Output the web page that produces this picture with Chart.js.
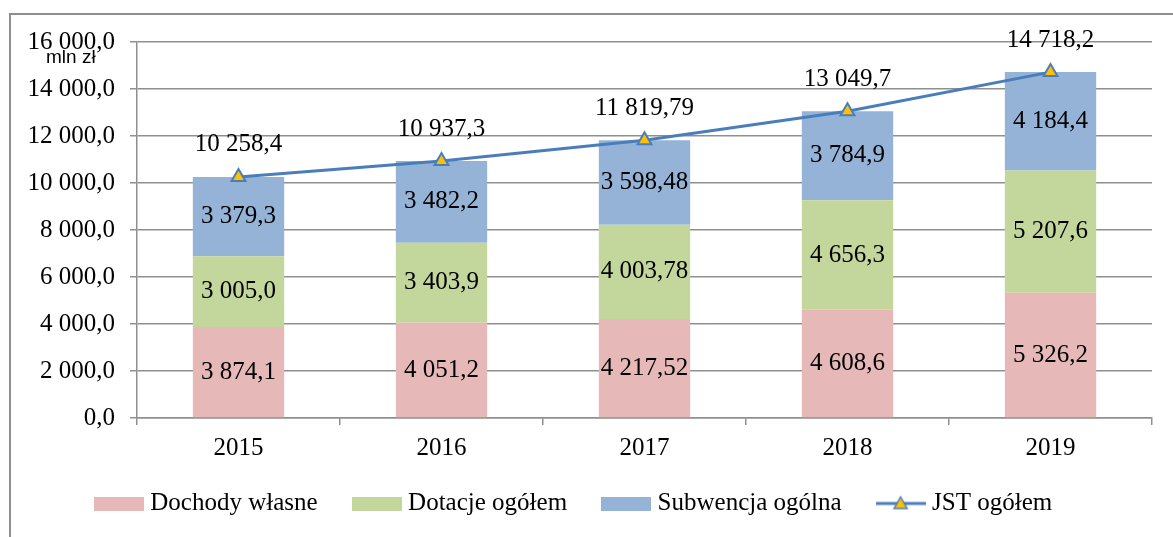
<!DOCTYPE html>
<html>
<head>
<meta charset="utf-8">
<script src="https://cdn.jsdelivr.net/npm/chart.js@4/dist/chart.umd.min.js"></script>
<style>
  body { margin: 0; background: #fff; }
  #wrap { width: 1173px; height: 537px; position: relative; }
</style>
</head>
<body>
<div id="wrap"><canvas id="chart" width="1173" height="537"></canvas></div>
<script>
// --- Data ---
const years = ['2015', '2016', '2017', '2018', '2019'];
const dochodyWlasne = [3874.1, 4051.2, 4217.52, 4608.6, 5326.2];
const dotacjeOgolem = [3005.0, 3403.9, 4003.78, 4656.3, 5207.6];
const subwencjaOgolna = [3379.3, 3482.2, 3598.48, 3784.9, 4184.4];
const jstOgolem = [10258.4, 10937.3, 11819.79, 13049.7, 14718.2];
const decimals = [1, 1, 2, 1, 1]; // 2017 is given with two decimals
const yTicks = [0, 2000, 4000, 6000, 8000, 10000, 12000, 14000, 16000];

const SERIF = '"Liberation Serif", "Times New Roman", serif';
const GRID = '#8f8f8f';
const LINE_BLUE = '#4A7EBB';

const fmt = (v, d) => {
    const [i, f] = v.toFixed(d).split('.');
    return i.replace(/\B(?=(\d{3})+(?!\d))/g, ' ') + ',' + f;
};

// legend swatches (wider than the box so the text sits close, like Excel)
const swatch = (color) => {
    const c = document.createElement('canvas');
    c.width = 50; c.height = 14;
    const g = c.getContext('2d');
    g.fillStyle = color; g.fillRect(0, 0, 50, 14);
    return c;
};
const lineSwatch = () => {
    const c = document.createElement('canvas');
    c.width = 50; c.height = 18;
    const g = c.getContext('2d');
    g.strokeStyle = LINE_BLUE; g.lineWidth = 3;
    g.beginPath(); g.moveTo(0, 9); g.lineTo(50, 9); g.stroke();
    g.beginPath(); g.moveTo(25, 2.5); g.lineTo(31.5, 14); g.lineTo(18.5, 14); g.closePath();
    g.fillStyle = '#FFC000'; g.fill(); g.lineWidth = 1.5; g.stroke();
    return c;
};

// --- Plugins ---
const frame = {
    id: 'frame',
    afterLayout(chart) {
        // pull the legend row up a bit, its padding is also the item gap
        chart.legend.top -= 11;
        chart.legend.bottom -= 11;
    },
    beforeDraw(chart) {
        const ctx = chart.ctx;
        ctx.save();
        ctx.fillStyle = '#fff';
        ctx.fillRect(0, 0, chart.width, chart.height);
        ctx.strokeStyle = GRID; ctx.lineWidth = 2;
        ctx.strokeRect(10, 14, 2000, 2000);
        ctx.restore();
    },
    afterDraw(chart) {
        const ctx = chart.ctx;
        ctx.save();
        ctx.font = '19px "Liberation Sans", Arial, sans-serif';
        ctx.fillStyle = '#000';
        ctx.textBaseline = 'alphabetic';
        ctx.fillText('mln zł', 46, 63);
        ctx.restore();
    }
};

const valueLabels = {
    id: 'valueLabels',
    afterDatasetsDraw(chart) {
        const ctx = chart.ctx;
        ctx.save();
        ctx.font = '25px ' + SERIF;
        ctx.fillStyle = '#000';
        ctx.textAlign = 'center';
        ctx.textBaseline = 'middle';
        chart.data.datasets.forEach((ds, di) => {
            const meta = chart.getDatasetMeta(di);
            meta.data.forEach((el, i) => {
                const txt = fmt(ds.data[i], decimals[i]);
                if (ds.type === 'line') {
                    ctx.fillText(txt, el.x, el.y - 32);
                } else {
                    ctx.fillText(txt, el.x, (el.y + el.base) / 2);
                }
            });
        });
        ctx.restore();
    }
};

// --- Chart ---
Chart.defaults.font.family = SERIF;
Chart.defaults.font.size = 25;
Chart.defaults.color = '#000';

new Chart(document.getElementById('chart').getContext('2d'), {
    data: {
        labels: years,
        datasets: [
            { type: 'bar', label: 'Dochody własne', data: dochodyWlasne, backgroundColor: '#E6B9B8', stack: 'bars', order: 1 },
            { type: 'bar', label: 'Dotacje ogółem', data: dotacjeOgolem, backgroundColor: '#C3D69B', stack: 'bars', order: 1 },
            { type: 'bar', label: 'Subwencja ogólna', data: subwencjaOgolna, backgroundColor: '#95B3D7', stack: 'bars', order: 1 },
            { type: 'line', label: 'JST ogółem', data: jstOgolem, borderColor: LINE_BLUE, borderWidth: 3, stack: 'line', order: 0,
              pointStyle: 'triangle', pointRadius: 8, pointBackgroundColor: '#FFC000', pointBorderColor: LINE_BLUE, pointBorderWidth: 2, tension: 0 }
        ]
    },
    options: {
        responsive: false,
        animation: false,
        layout: { padding: { top: 42, right: 21, bottom: 0, left: 0 } },
        datasets: { bar: { barPercentage: 0.45, categoryPercentage: 1.0 } },
        scales: {
            x: {
                stacked: true,
                offset: true,
                grid: { display: true, drawOnChartArea: false, drawTicks: true, tickLength: 7, color: GRID, lineWidth: 1.5, offset: true },
                border: { color: GRID, width: 1.5 },
                ticks: { padding: 8 },
                afterFit: (s) => { s.height = 44; }
            },
            y: {
                stacked: true,
                min: 0, max: 16000,
                afterBuildTicks: (s) => { s.ticks = yTicks.map(v => ({ value: v })); },
                grid: { color: GRID, lineWidth: 1.5, tickLength: 7 },
                border: { color: GRID, width: 1.5 },
                ticks: { padding: 15, callback: (v) => fmt(v, 1) },
                afterFit: (s) => { s.width = 137; }
            }
        },
        plugins: {
            tooltip: { enabled: false },
            legend: {
                position: 'bottom',
                labels: {
                    usePointStyle: true,
                    pointStyleWidth: 38,
                    boxHeight: 14,
                    padding: 40,
                    font: { size: 25, family: SERIF },
                    generateLabels: (chart) => chart.data.datasets.map((ds, i) => ({
                        text: ds.label,
                        fillStyle: ds.backgroundColor || ds.borderColor,
                        strokeStyle: ds.borderColor,
                        lineWidth: 0,
                        pointStyle: ds.type === 'line' ? lineSwatch() : swatch(ds.backgroundColor),
                        hidden: false,
                        datasetIndex: i
                    }))
                }
            }
        }
    },
    plugins: [frame, valueLabels]
});
</script>
</body>
</html>
